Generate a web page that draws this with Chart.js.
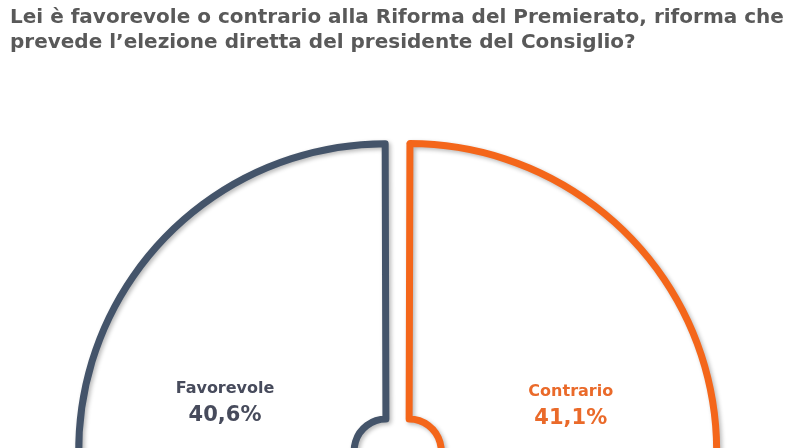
<!DOCTYPE html>
<html lang="it">
<head>
<meta charset="utf-8">
<title>Riforma del Premierato</title>
<script src="https://cdn.jsdelivr.net/npm/chart.js@4.4.1/dist/chart.umd.min.js"></script>
<style>
  html, body { margin: 0; padding: 0; background: #fff; overflow: hidden; }
  #wrap { width: 795px; height: 448px; overflow: hidden; }
  canvas { display: block; }
</style>
</head>
<body>
<div id="wrap"><canvas id="premieratoChart" width="795" height="854"></canvas></div>
<script>
// Data
const titleLines = [
  'Lei è favorevole o contrario alla Riforma del Premierato, riforma che',
  'prevede l\u2019elezione diretta del presidente del Consiglio?'
];
const labels = ['Contrario', 'Non sa', 'Favorevole'];
const values = [41.1, 18.3, 40.6];

// Styles
const lineColors = ['#f4661a', '#a6a6a6', '#44546a'];
const textColors = ['#ea6a2a', '#7f7f7f', '#474b5c'];
const fontFamily = '"DejaVu Sans", sans-serif';

function fmtPct(v) {
  return v.toFixed(1).replace('.', ',') + '%';
}

// soft shadow under the outlines
const outlineShadow = {
  id: 'outlineShadow',
  beforeDatasetsDraw(chart) {
    const ctx = chart.ctx;
    ctx.save();
    ctx.shadowColor = 'rgba(0,0,0,0.28)';
    ctx.shadowBlur = 4;
    ctx.shadowOffsetX = 2;
    ctx.shadowOffsetY = 2;
  },
  afterDatasetsDraw(chart) {
    chart.ctx.restore();
  }
};

// name + percentage inside each slice
const sliceLabels = {
  id: 'sliceLabels',
  afterDatasetsDraw(chart) {
    const ctx = chart.ctx;
    chart.getDatasetMeta(0).data.forEach((arc, i) => {
      const mid = (arc.startAngle + arc.endAngle) / 2;
      const r = (arc.innerRadius + arc.outerRadius) / 2 + 16;
      const x = arc.x + Math.cos(mid) * r;
      const y = arc.y + Math.sin(mid) * r;
      ctx.save();
      ctx.textAlign = 'center';
      ctx.textBaseline = 'middle';
      ctx.fillStyle = textColors[i];
      ctx.font = 'bold 16px ' + fontFamily;
      ctx.fillText(labels[i], x, y - 13);
      ctx.font = 'bold 21px ' + fontFamily;
      ctx.fillText(fmtPct(values[i]), x, y + 14);
      ctx.restore();
    });
  }
};

const ctx = document.getElementById('premieratoChart').getContext('2d');
new Chart(ctx, {
  type: 'doughnut',
  data: {
    labels: labels,
    datasets: [{
      data: values,
      backgroundColor: 'rgba(255,255,255,0)',
      borderColor: lineColors,
      borderWidth: 7,
      borderJoinStyle: 'round',
      offset: 48
    }]
  },
  options: {
    responsive: false,
    animation: false,
    events: [],
    radius: 302,
    cutout: '8.8%',
    layout: { padding: { left: 10, right: 10, top: 0, bottom: 0 } },
    plugins: {
      legend: { display: false },
      tooltip: { enabled: false },
      title: {
        display: true,
        text: titleLines,
        align: 'start',
        color: '#595959',
        font: { family: fontFamily, size: 20, weight: 'bold', lineHeight: '25px' },
        padding: { top: 5, bottom: 0 }
      }
    }
  },
  plugins: [outlineShadow, sliceLabels]
});
</script>
</body>
</html>
